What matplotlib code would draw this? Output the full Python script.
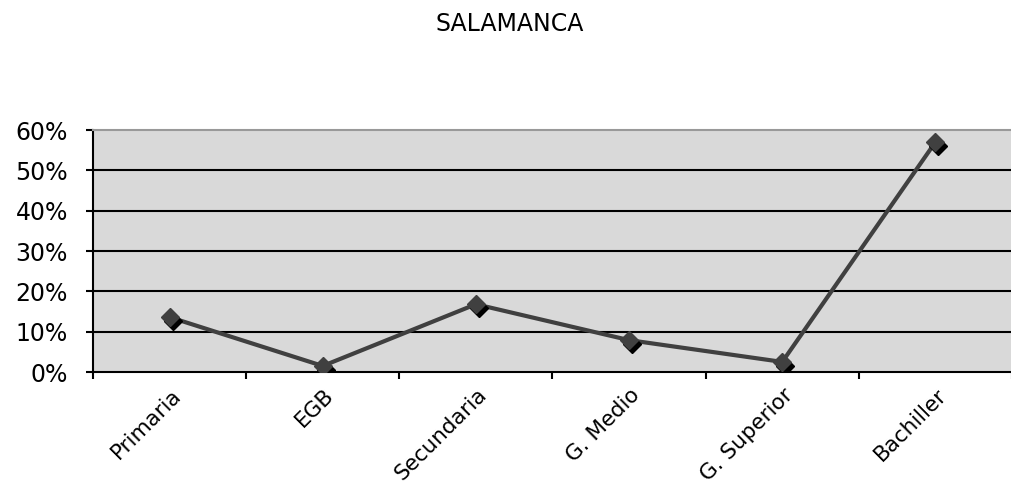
import matplotlib
matplotlib.use("Agg")
import matplotlib.pyplot as plt
from matplotlib.ticker import FuncFormatter, FixedLocator
from matplotlib.transforms import ScaledTranslation

categories = ["Primaria", "EGB", "Secundaria", "G. Medio", "G. Superior", "Bachiller"]
values = [0.136, 0.015, 0.168, 0.079, 0.025, 0.570]
title = "SALAMANCA"

plt.rcParams['font.family'] = ['DejaVu Sans']
fig = plt.figure(figsize=(10.12, 4.9), dpi=100)
ax = fig.add_axes([93/1012, 118/490, 919/1012, 242/490])
ax.set_facecolor("#d9d9d9")

x = list(range(len(categories)))
ax.plot(x, values, color="#404040", lw=3, zorder=3, solid_capstyle="round")
ax.plot(x, values, ls="none", marker="D", ms=9, color="black", zorder=4,
        transform=ax.transData + ScaledTranslation(3/100, -4/100, fig.dpi_scale_trans))
ax.plot(x, values, ls="none", marker="D", ms=9, color="#404040", zorder=5)

ax.set_xlim(-0.5, len(categories) - 0.5)
ax.set_ylim(0, 0.6)
ax.set_yticks([i / 10 for i in range(7)])
ax.yaxis.set_major_formatter(FuncFormatter(lambda v, p: f"{v*100:.0f}%"))
for g in [0.1, 0.2, 0.3, 0.4, 0.5]:
    ax.axhline(g, color="black", lw=1.5, zorder=1)

ax.xaxis.set_major_locator(FixedLocator([i - 0.5 for i in range(len(categories) + 1)]))
ax.xaxis.set_major_formatter(FuncFormatter(lambda v, p: ""))
ax.xaxis.set_minor_locator(FixedLocator(x))
ax.set_xticklabels(categories, minor=True)
ax.tick_params(axis="x", which="minor", length=0, labelsize=15.5, pad=2)
ax.tick_params(axis="x", which="major", length=5, width=1.5, direction="out")
ax.tick_params(axis="y", length=5, width=1.5, direction="out", labelsize=17, pad=13)
for lab in ax.get_xticklabels(minor=True):
    lab.set_rotation(45)
    lab.set_ha("right")
    lab.set_va("top")
    lab.set_rotation_mode("anchor")
    lab.set_transform(lab.get_transform() + ScaledTranslation(1/100, -10/100, fig.dpi_scale_trans))

for s in ["left", "bottom"]:
    ax.spines[s].set_color("black")
    ax.spines[s].set_linewidth(1.5)
ax.spines["top"].set_color("#999999")
ax.spines["top"].set_linewidth(1.5)
ax.spines["right"].set_visible(False)

fig.text(510/1012, 1 - 24/490, title, ha="center", va="center", fontsize=17)

fig.savefig("out.png", dpi=100)
